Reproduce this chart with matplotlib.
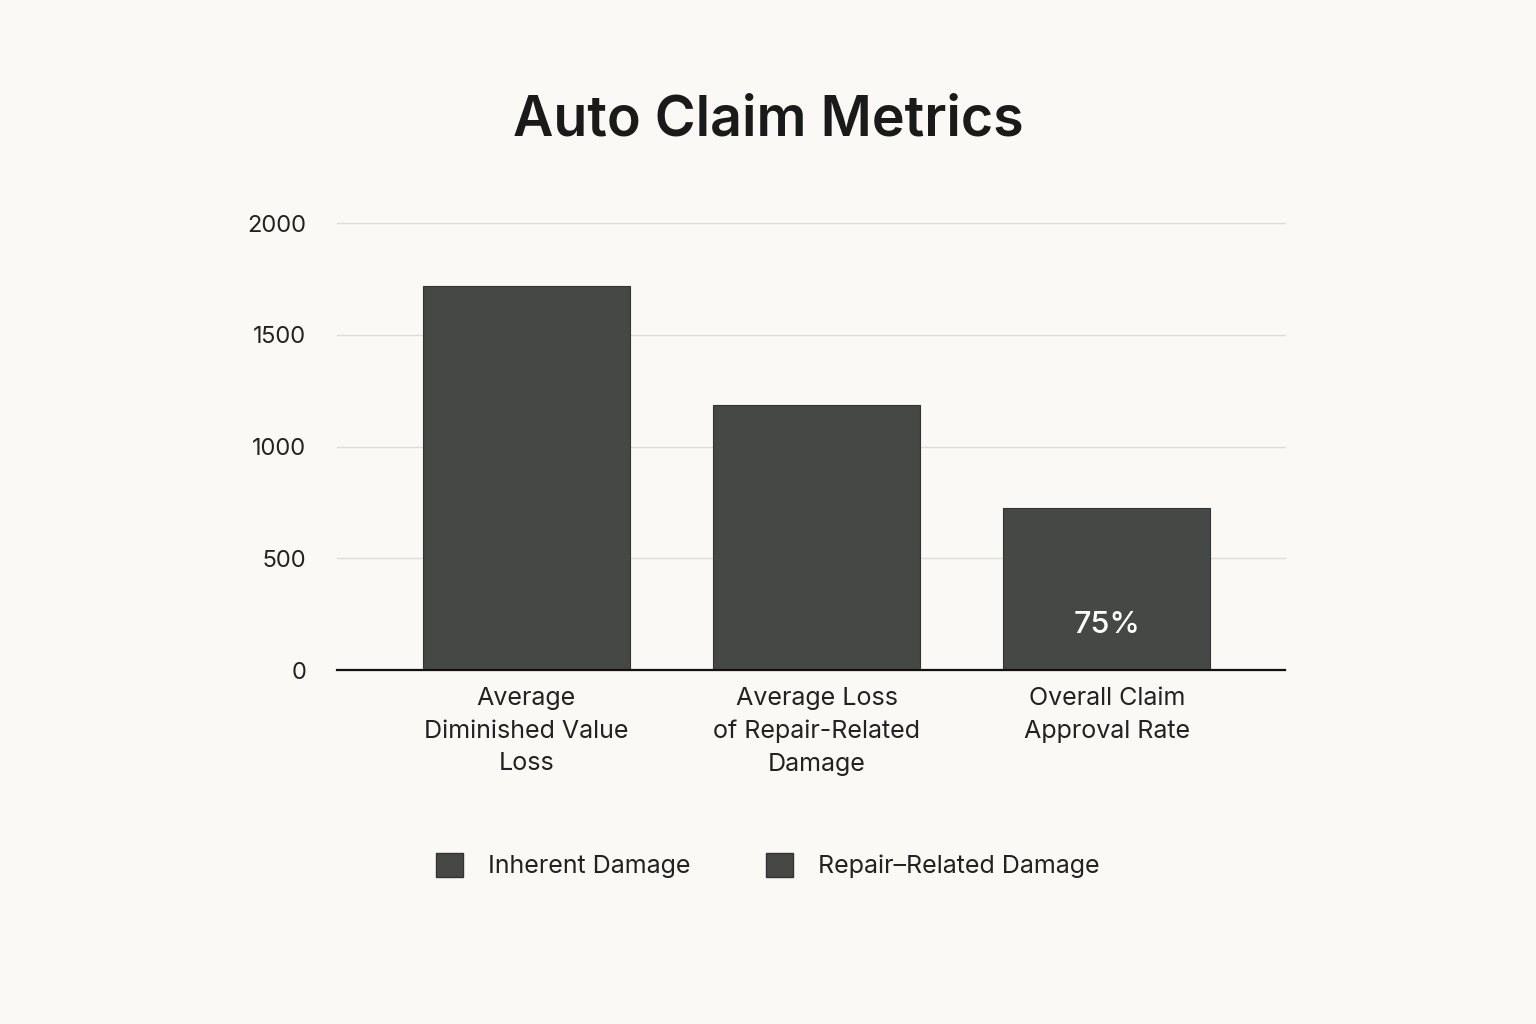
import matplotlib.pyplot as plt
from matplotlib.patches import Patch

plt.rcParams["font.family"] = "Inter"

categories = ["Average\nDiminished Value\nLoss", "Average Loss\nof Repair-Related\nDamage", "Overall Claim\nApproval Rate"]
values = [1720, 1185, 725]
bar_labels = ["", "", "75%"]
y_ticks = [0, 500, 1000, 1500, 2000]
legend_labels = ["Inherent Damage", "Repair–Related Damage"]

BG = "#faf9f5"
BAR = "#464846"

fig = plt.figure(figsize=(15.36, 10.24), dpi=100, facecolor=BG)
ax = fig.add_axes([0.2194, 0.3457, 0.6172, 0.4365], facecolor=BG)

x = list(range(len(categories)))
bars = ax.bar(x, values, width=0.714, color=BAR, edgecolor="#333333", linewidth=0.8, zorder=3)
for b, lab in zip(bars, bar_labels):
    if lab:
        ax.text(b.get_x() + b.get_width() / 2, 200, lab, ha="center", va="center",
                color="white", fontsize=22, fontweight="medium", zorder=4)

ax.set_xlim(-0.652, 2.614)
ax.set_ylim(0, 2000)
ax.set_yticks(y_ticks)
ax.set_yticklabels([str(t) for t in y_ticks], fontsize=17, color="#222222")
ax.grid(axis="y", color="#dddddd", linewidth=1.0, zorder=0, clip_on=False)
for gl in ax.get_ygridlines():
    gl.set_clip_on(False)
ax.set_xticks(x)
ax.set_xticklabels(categories, fontsize=18, color="#222222", linespacing=1.55)
ax.tick_params(axis="both", length=0, pad=12)
ax.tick_params(axis="y", pad=22)
for s in ["top", "right", "left"]:
    ax.spines[s].set_visible(False)
ax.spines["bottom"].set_color("#111111")
ax.spines["bottom"].set_linewidth(1.6)
ax.spines["bottom"].set_zorder(5)

fig.text(0.5, 0.882, "Auto Claim Metrics", ha="center", va="center",
         fontsize=40, fontweight="semibold", color="#1a1a1a")

handles = [Patch(facecolor=BAR, edgecolor="#333333") for _ in legend_labels]
fig.legend(handles, legend_labels, loc="center", bbox_to_anchor=(0.5, 0.155), ncol=2,
           frameon=False, fontsize=18, handlelength=1.1, handleheight=1.1,
           columnspacing=3.0, handletextpad=1.0, labelcolor="#222222")

fig.savefig("out.png", dpi=100, facecolor=BG)
